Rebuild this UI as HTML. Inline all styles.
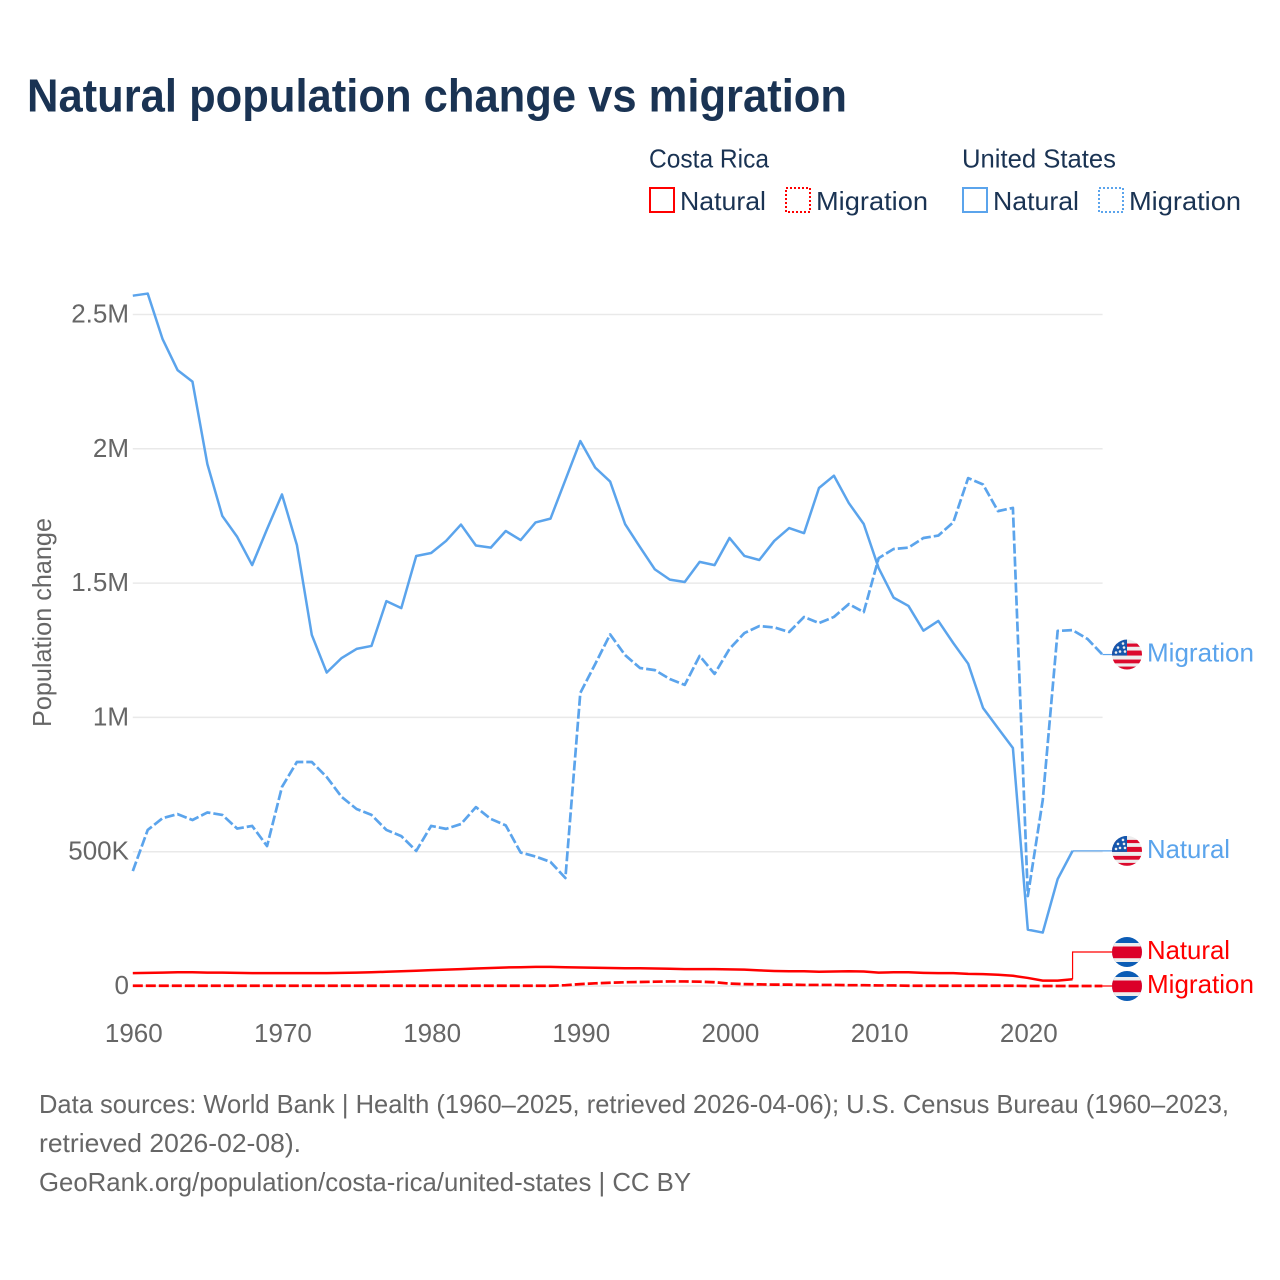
<!DOCTYPE html>
<html lang="en">
<head>
<meta charset="utf-8">
<title>Natural population change vs migration</title>
<style>
html,body{margin:0;padding:0;background:#fff;}
svg{display:block;font-family:"Liberation Sans",sans-serif;}
</style>
</head>
<body>
<svg id="chart" xmlns="http://www.w3.org/2000/svg" width="1280" height="1280" viewBox="0 0 1280 1280">
  <defs>
    <clipPath id="flag-clip"><circle cx="0" cy="0" r="15"></circle></clipPath>
  </defs>
  <rect x="0" y="0" width="1280" height="1280" fill="#ffffff"></rect>
  <text x="27" y="111.5" font-size="46" font-weight="700" fill="#1a3353" textLength="820" lengthAdjust="spacingAndGlyphs">Natural population change vs migration</text>

  <g font-size="26" fill="#1a3353">
    <text x="649" y="167.5" textLength="120" lengthAdjust="spacingAndGlyphs">Costa Rica</text>
    <text x="962" y="167.5" textLength="154" lengthAdjust="spacingAndGlyphs">United States</text>
    <rect x="650" y="188" width="24" height="24" fill="none" stroke="#ff0000" stroke-width="2"></rect>
    <text x="680" y="210" textLength="86" lengthAdjust="spacingAndGlyphs">Natural</text>
    <rect x="786" y="188" width="24" height="24" fill="none" stroke="#ff0000" stroke-width="2" stroke-dasharray="2 2"></rect>
    <text x="816" y="210" textLength="112" lengthAdjust="spacingAndGlyphs">Migration</text>
    <rect x="963" y="188" width="24" height="24" fill="none" stroke="#5ba4ec" stroke-width="2"></rect>
    <text x="993" y="210" textLength="86" lengthAdjust="spacingAndGlyphs">Natural</text>
    <rect x="1099" y="188" width="24" height="24" fill="none" stroke="#5ba4ec" stroke-width="2" stroke-dasharray="2 2"></rect>
    <text x="1129" y="210" textLength="112" lengthAdjust="spacingAndGlyphs">Migration</text>
  </g>

  <g id="grid"></g>
  <g id="y-ticks" font-size="26" fill="#666666" text-anchor="end"></g>
  <g id="x-ticks" font-size="26" fill="#666666" text-anchor="middle"></g>
  <text transform="translate(51,622.5) rotate(-90)" font-size="26" fill="#666666" text-anchor="middle" textLength="209" lengthAdjust="spacingAndGlyphs">Population change</text>
  <g id="series"></g>
  <g id="end-labels"></g>

  <g font-size="26" fill="#666666">
    <text x="39" y="1113" textLength="1190" lengthAdjust="spacingAndGlyphs">Data sources: World Bank | Health (1960–2025, retrieved 2026-04-06); U.S. Census Bureau (1960–2023,</text>
    <text x="39" y="1152" textLength="262" lengthAdjust="spacingAndGlyphs">retrieved 2026-02-08).</text>
    <text x="39" y="1191" textLength="652" lengthAdjust="spacingAndGlyphs">GeoRank.org/population/costa-rica/united-states | CC BY</text>
  </g>
</svg>

<script>
const startYear = 1960;
const xTickYears = [1960, 1970, 1980, 1990, 2000, 2010, 2020];
const yTickValues = [0, 500, 1000, 1500, 2000, 2500];
const yTickLabels = ["0", "500K", "1M", "1.5M", "2M", "2.5M"];

// Values in thousands of people per year, starting at 1960
const usNatural = [2570,2578,2408,2293,2250,1943,1750,1672,1567,1701,1830,1642,1307,1167,1221,1255,1266,1433,1407,1601,1612,1657,1718,1640,1632,1694,1660,1726,1740,1884,2029,1930,1878,1720,1634,1551,1513,1504,1579,1567,1668,1601,1586,1657,1705,1686,1854,1900,1798,1720,1556,1446,1415,1323,1359,1277,1200,1035,960,886,210,199,398,503];
const usMigration = [428,581,625,640,618,646,637,586,596,521,741,834,834,778,704,659,637,581,558,503,596,585,603,666,622,598,497,482,462,402,1091,1199,1309,1232,1184,1176,1143,1121,1229,1162,1255,1314,1340,1335,1318,1374,1351,1374,1422,1392,1593,1627,1632,1668,1677,1726,1891,1867,1768,1780,335,692,1322,1325,1292,1234];
const crNatural = [48,49,50,51,51,50,50,49,48,48,48,48,48,48,49,50,51,53,55,57,59,61,63,65,67,69,70,71,71,70,69,68,67,66,66,65,64,63,63,63,62,61,58,56,55,55,53,54,55,54,50,51,51,49,48,48,45,44,42,38,30,20,20,25];
const crMigration = [1,1,1,1,1,1,1,1,1,1,1,1,1,1,1,1,1,1,1,1,1,1,1,1,1,1,1,1,1,3,7,10,12,14,15,16,17,17,16,14,9,7,6,5,5,4,4,4,3,3,2,2,1,1,1,1,1,1,1,1,0,0,0,0,0,0];

const SVG_NS = "http://www.w3.org/2000/svg";
const plot = { left: 132.8, right: 1102.6, zero: 986 };
const BLUE = "#5ba4ec";
const RED = "#ff0000";

function scaleX(year) { return plot.left + (year - startYear) * 14.917; }
function scaleY(value) { return plot.zero - value * 0.2686; }

function make(tag, attrs, parent) {
  const el = document.createElementNS(SVG_NS, tag);
  for (const key in attrs) el.setAttribute(key, attrs[key]);
  parent.appendChild(el);
  return el;
}

const gridGroup = document.getElementById("grid");
const yTickGroup = document.getElementById("y-ticks");
const xTickGroup = document.getElementById("x-ticks");
const seriesGroup = document.getElementById("series");
const labelGroup = document.getElementById("end-labels");

yTickValues.forEach(function (value, i) {
  const line = make("line", { x1: plot.left, x2: plot.right, y1: scaleY(value), y2: scaleY(value), stroke: "#e9e9e9", "stroke-width": 1.5 }, gridGroup);
  
  
  const label = make("text", { x: 129, y: scaleY(value) + 8 }, yTickGroup);
  label.textContent = yTickLabels[i];
  
  
});

xTickYears.forEach(function (year) {
  const label = make("text", { x: scaleX(year) + 1, y: 1042 }, xTickGroup);
  label.textContent = String(year);
  
  
});

function linePoints(values) {
  return values.map(function (v, i) { return scaleX(startYear + i).toFixed(2) + "," + scaleY(v).toFixed(2); }).join(" ");
}

function drawSeries(values, color, dashed) {
  const attrs = { points: linePoints(values), fill: "none", stroke: color, "stroke-width": dashed ? 2.7 : 2.5, "stroke-linejoin": "round" };
  if (dashed) attrs["stroke-dasharray"] = "10 3";
  return make("polyline", attrs, seriesGroup);
}

const usNaturalLine = drawSeries(usNatural, BLUE, false);


const usMigrationLine = drawSeries(usMigration, BLUE, true);


const crNaturalLine = drawSeries(crNatural, RED, false);


const crMigrationLine = drawSeries(crMigration, RED, true);



function drawUSFlag(parent) {
  const clip = make("g", { "clip-path": "url(#flag-clip)" }, parent);
  make("rect", { x: -15, y: -15, width: 30, height: 30, fill: "#eeeeee" }, clip);
  [[-11, 3.2], [-4, 5], [5, 3.8], [12, 3]].forEach(function (s) {
    make("rect", { x: -15, y: s[0], width: 30, height: s[1], fill: "#dc0a2d" }, clip);
  });
  make("rect", { x: -15, y: -15, width: 15, height: 16, fill: "#1556ac" }, clip);
  [[-4, -11], [-9, -7], [-3, -7], [-7, -3], [-2, -3], [-11, -2]].forEach(function (s) {
    make("circle", { cx: s[0], cy: s[1], r: 1.3, fill: "#eeeeee" }, clip);
  });
}

function drawCRFlag(parent) {
  const clip = make("g", { "clip-path": "url(#flag-clip)" }, parent);
  make("rect", { x: -15, y: -15, width: 30, height: 30, fill: "#0b5cb5" }, clip);
  make("rect", { x: -15, y: -9, width: 30, height: 19, fill: "#eeeeee" }, clip);
  make("rect", { x: -15, y: -5.5, width: 30, height: 11.7, fill: "#dc0029" }, clip);
}

function drawEndLabel(values, color, text, labelY, drawFlag, leaderName, flagName, labelName) {
  const lastX = scaleX(startYear + values.length - 1);
  const lastY = scaleY(values[values.length - 1]);
  const leader = make("polyline", {
    points: lastX + "," + lastY + " " + lastX + "," + labelY + " 1112," + labelY,
    fill: "none", stroke: color, "stroke-width": 1.2
  }, labelGroup);
  
  
  const flag = make("g", { transform: "translate(1127," + labelY + ")" }, labelGroup);
  
  
  drawFlag(flag);
  const label = make("text", { x: 1147, y: labelY + 7, "font-size": 26, fill: color, textLength: text === "Natural" ? 83 : 107, lengthAdjust: "spacingAndGlyphs" }, labelGroup);
  label.textContent = text;
  
  
}

const usMigrationY = scaleY(usMigration[usMigration.length - 1]);
const usNaturalY = scaleY(usNatural[usNatural.length - 1]);
const crMigrationY = scaleY(crMigration[crMigration.length - 1]);
const crNaturalY = crMigrationY - 34;

drawEndLabel(usMigration, BLUE, "Migration", usMigrationY, drawUSFlag, 'united-states-migration-leader', 'united-states-migration-flag', 'united-states-migration-label');
drawEndLabel(usNatural, BLUE, "Natural", usNaturalY, drawUSFlag, 'united-states-natural-leader', 'united-states-natural-flag', 'united-states-natural-label');
drawEndLabel(crNatural, RED, "Natural", crNaturalY, drawCRFlag, 'costa-rica-natural-leader', 'costa-rica-natural-flag', 'costa-rica-natural-label');
drawEndLabel(crMigration, RED, "Migration", crMigrationY, drawCRFlag, 'costa-rica-migration-leader', 'costa-rica-migration-flag', 'costa-rica-migration-label');
</script>
</body>
</html>
